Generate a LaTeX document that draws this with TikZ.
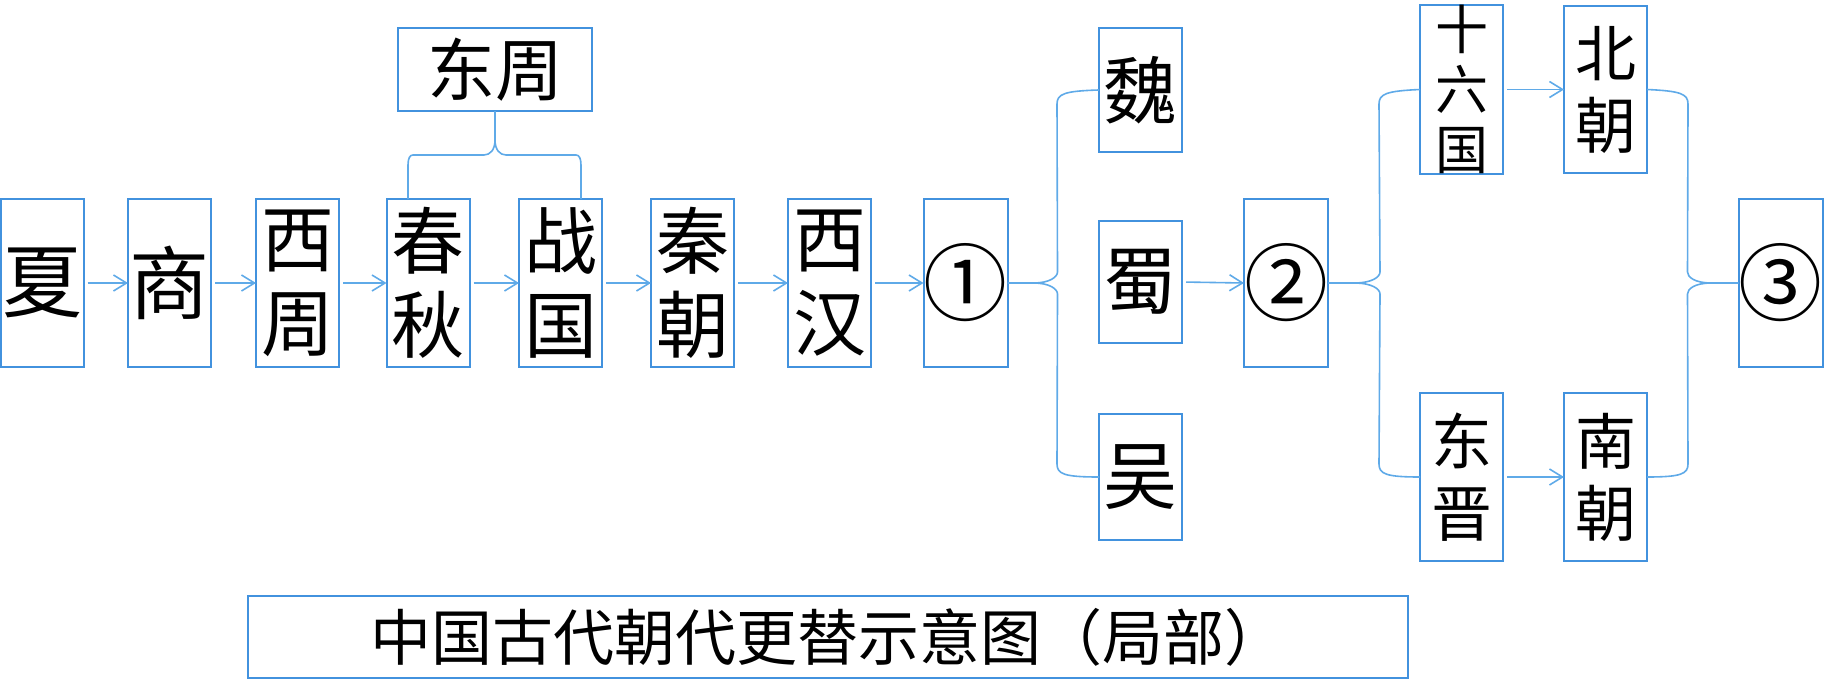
\documentclass[tikz,border=0pt]{standalone}
\usepackage{fontspec}
\setmainfont{Noto Sans CJK SC}
\usetikzlibrary{arrows.meta}
\definecolor{boxblue}{RGB}{66,146,222}
\definecolor{lineblue}{RGB}{95,170,232}
\tikzset{
  box/.style={draw=boxblue, line width=2pt, minimum width=83pt, inner sep=0pt, outer sep=0pt, align=center, text=black},
  big/.style={font=\fontsize{80}{80}\selectfont},
  circ/.style={font=\fontsize{84}{84}\selectfont},
  two/.style={font=\fontsize{73}{84}\selectfont},
  mid/.style={font=\fontsize{61}{72}\selectfont},
  three/.style={font=\fontsize{53}{60}\selectfont},
  link/.style={draw=lineblue, line width=1.6pt},
  arr/.style={link, -{Straight Barb[length=13pt,width=16pt]}, shorten <=4pt},
}
\begin{document}
\begin{tikzpicture}[x=1pt,y=-1pt]
\useasboundingbox (0,0) rectangle (1824,680);
% main row
\node[box,big,minimum height=168pt] (xia) at (42,283) {夏};
\node[box,big,minimum height=168pt] (shang) at (169.5,283) {商};
\node[box,two,minimum height=168pt] (xizhou) at (297.5,283) {西\\周};
\node[box,two,minimum height=168pt] (chunqiu) at (428,283) {春\\秋};
\node[box,two,minimum height=168pt] (zhanguo) at (560.5,283) {战\\国};
\node[box,two,minimum height=168pt] (qin) at (692.5,283) {秦\\朝};
\node[box,two,minimum height=168pt] (xihan) at (829.5,283) {西\\汉};
\node[box,circ,minimum height=168pt] (n1) at (965.5,283) {①};
\node[box,font=\fontsize{68}{68}\selectfont,minimum width=194pt,minimum height=83pt] (dongzhou) at (495,69.5) {东周};
% three kingdoms
\node[box,font=\fontsize{74}{74}\selectfont,minimum height=124pt] (wei) at (1140.5,90) {魏};
\node[box,font=\fontsize{74}{74}\selectfont,minimum height=122pt] (shu) at (1140.5,282) {蜀};
\node[box,font=\fontsize{74}{74}\selectfont,minimum height=126pt] (wu) at (1140.5,477) {吴};
\node[box,circ,minimum height=168pt] (n2) at (1286,283) {②};
% northern / southern
\node[box,three,minimum height=167pt] (sixteen) at (1461.5,89.5) {十\\六\\国};
\node[box,mid,minimum height=167pt] (beichao) at (1605.5,89.5) {北\\朝};
\node[box,mid,minimum height=168pt] (dongjin) at (1461.5,477) {东\\晋};
\node[box,mid,minimum height=168pt] (nanchao) at (1605.5,477) {南\\朝};
\node[box,circ,minimum height=168pt] (n3) at (1780.5,283) {③};
% caption
\node[box,font=\fontsize{61}{61}\selectfont,minimum width=1160pt,minimum height=82pt] (caption) at (828,637) {中国古代朝代更替示意图（局部）};
% arrows
\draw[arr] (xia.east) -- (shang.west);
\draw[arr] (shang.east) -- (xizhou.west);
\draw[arr] (xizhou.east) -- (chunqiu.west);
\draw[arr] (chunqiu.east) -- (zhanguo.west);
\draw[arr] (zhanguo.east) -- (qin.west);
\draw[arr] (qin.east) -- (xihan.west);
\draw[arr] (xihan.east) -- (n1.west);
\draw[arr] (shu.east) -- (n2.west);
\draw[arr] (sixteen.east) -- (beichao.west);
\draw[arr] (dongjin.east) -- (nanchao.west);
% brace from dongzhou
\draw[link] (dongzhou.south) -- ++(0,29) .. controls +(0,10) and +(6,0) .. ++(-11,15) -- (413,155) .. controls (410,155) and (408,158) .. (408,165) -- (408,199);
\draw[link] (dongzhou.south) ++(0,29) .. controls +(0,10) and +(-6,0) .. ++(11,15) -- (576,155) .. controls (579,155) and (581,158) .. (581,165) -- (581,199);
% brace 1 -> wei/wu
\draw[link] (n1.east) -- ++(26,0) .. controls +(16,0) and +(0,5) .. ++(24,-11) -- (1057,104) .. controls (1057,94) and (1064,91) .. (wei.west);
\draw[link] (n1.east) ++(26,0) .. controls +(16,0) and +(0,-5) .. ++(24,11) -- (1057,464) .. controls (1057,474) and (1064,477) .. (wu.west);
% brace 2 -> sixteen/dongjin
\draw[link] (n2.east) -- ++(26,0) .. controls +(18,0) and +(0,5) .. ++(26,-11) -- (1379,104) .. controls (1379,94) and (1386,91) .. (sixteen.west);
\draw[link] (n2.east) ++(26,0) .. controls +(18,0) and +(0,-5) .. ++(26,11) -- (1379,464) .. controls (1379,474) and (1386,477) .. (dongjin.west);
% brace beichao/nanchao -> 3
\draw[link] (n3.west) -- ++(-27,0) .. controls +(-17,0) and +(0,5) .. ++(-24,-11) -- (1688,104) .. controls (1688,94) and (1681,91) .. (beichao.east);
\draw[link] (n3.west) ++(-27,0) .. controls +(-17,0) and +(0,-5) .. ++(-24,11) -- (1688,464) .. controls (1688,474) and (1681,477) .. (nanchao.east);
\end{tikzpicture}
\end{document}
